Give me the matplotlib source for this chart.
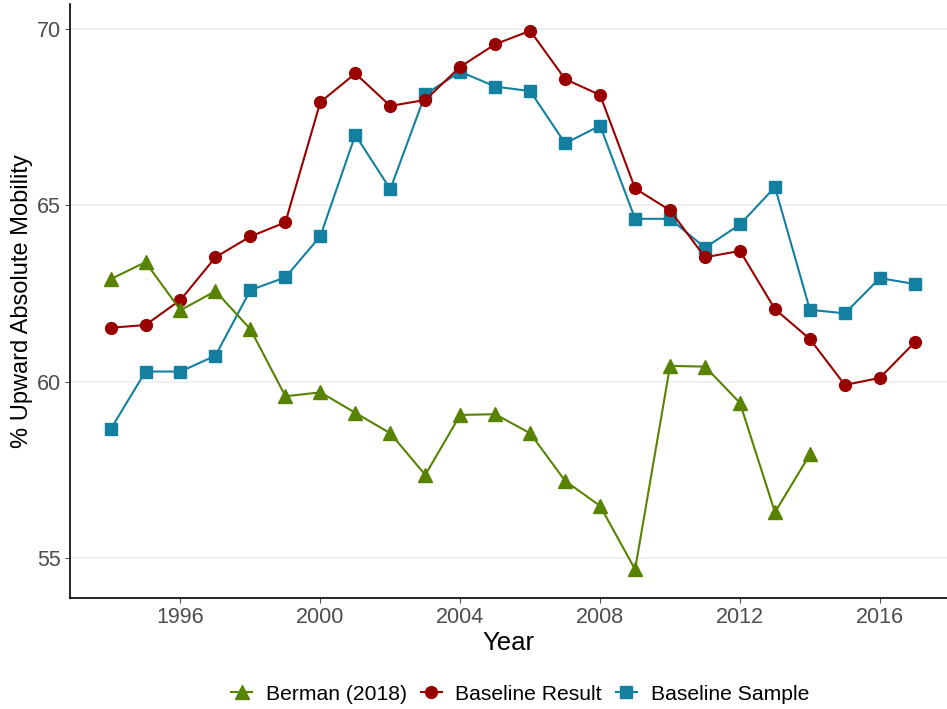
import matplotlib
matplotlib.use("Agg")
import matplotlib.pyplot as plt
from matplotlib.lines import Line2D

plt.rcParams['font.family'] = ['Liberation Sans', 'DejaVu Sans']

years_berman = list(range(1994, 2015))
berman = [62.91, 63.39, 62.03, 62.57, 61.49, 59.59, 59.70, 59.12, 58.54, 57.36,
          59.06, 59.08, 58.54, 57.19, 56.48, 54.68, 60.45, 60.43, 59.40, 56.30, 57.94]

years_base = list(range(1994, 2018))
baseline_result = [61.53, 61.61, 62.32, 63.53, 64.12, 64.52, 67.93, 68.74, 67.82, 67.99,
                   68.93, 69.57, 69.95, 68.58, 68.13, 65.48, 64.86, 63.53, 63.71, 62.06,
                   61.21, 59.91, 60.11, 61.12]
baseline_sample = [58.65, 60.29, 60.29, 60.74, 62.60, 62.96, 64.13, 67.00, 65.46, 68.15,
                   68.79, 68.37, 68.24, 66.76, 67.26, 64.62, 64.62, 63.80, 64.46, 65.52,
                   62.04, 61.94, 62.94, 62.77]

x_ticks = [1996, 2000, 2004, 2008, 2012, 2016]
y_ticks = [55, 60, 65, 70]

c_green = "#588300"
c_red = "#990000"
c_blue = "#1380A1"

fig = plt.figure(figsize=(9.47, 7.09), dpi=100)
ax = fig.add_axes([70/947, 1 - 598/709, 1 - 70/947, (598 - 4)/709])

ax.plot(years_base, baseline_sample, color=c_blue, lw=1.5, marker='s', ms=8, zorder=3)
ax.plot(years_base, baseline_result, color=c_red, lw=1.5, marker='o', ms=8.5, zorder=4)
ax.plot(years_berman, berman, color=c_green, lw=1.5, marker='^', ms=9.5, zorder=5)

ax.set_xlim(1992.84, 2017.92)
ax.set_ylim(53.87, 70.71)
ax.set_xticks(x_ticks)
ax.set_yticks(y_ticks)
ax.tick_params(axis='both', labelsize=15.5, colors="#4D4D4D", length=3.5, width=0.8, pad=3)
for lab in ax.get_xticklabels() + ax.get_yticklabels():
    lab.set_color("#4D4D4D")
ax.grid(axis='y', color="#EBEBEB", lw=1.1)
ax.set_axisbelow(True)
for s in ['top', 'right']:
    ax.spines[s].set_visible(False)
for s in ['left', 'bottom']:
    ax.spines[s].set_color('black')
    ax.spines[s].set_linewidth(1.2)

ax.set_xlabel("Year", fontsize=18.5, labelpad=2)
ax.set_ylabel("% Upward Absolute Mobility", fontsize=17, labelpad=3)

handles = [
    Line2D([], [], color=c_green, lw=1.5, marker='^', ms=9.5),
    Line2D([], [], color=c_red, lw=1.5, marker='o', ms=8.5),
    Line2D([], [], color=c_blue, lw=1.5, marker='s', ms=8),
]
labels = ["Berman (2018)", "Baseline Result", "Baseline Sample"]
fig.legend(handles, labels, loc='center', bbox_to_anchor=(520/947, 1 - 694/709), ncol=3,
           frameon=False, fontsize=15.2, handlelength=1.0, handletextpad=0.65,
           columnspacing=0.65)

fig.savefig("out.png", dpi=100)
